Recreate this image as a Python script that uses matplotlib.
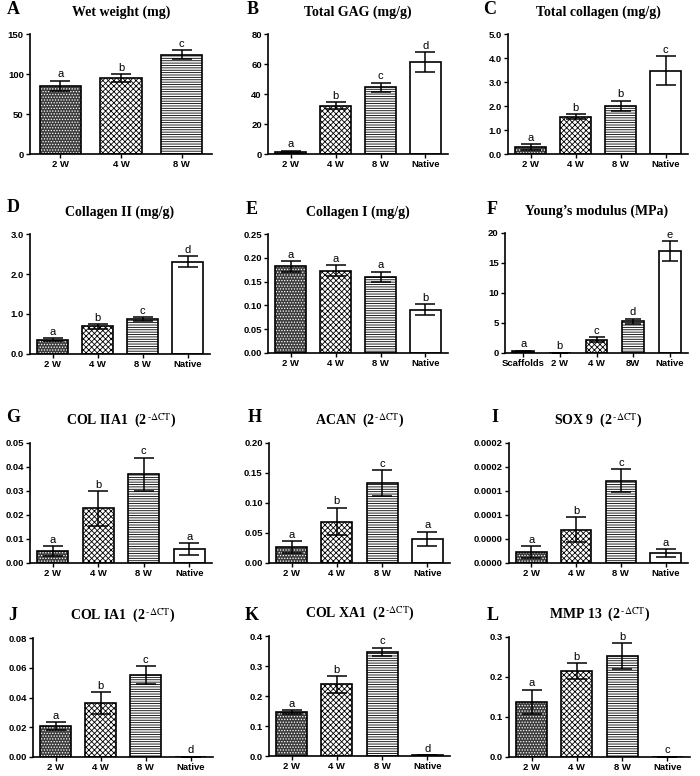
import matplotlib.pyplot as plt
import numpy as np

plt.rcParams['font.family'] = ['Liberation Sans', 'DejaVu Sans']
plt.rcParams['hatch.linewidth'] = 0.6
plt.rcParams['mathtext.fontset'] = 'stix'

# group labels
groups3 = ["2 W", "4 W", "8 W"]
groups4 = ["2 W", "4 W", "8 W", "Native"]
groups5 = ["Scaffolds", "2 W", "4 W", "8W", "Native"]

# A - wet weight (mg)
wet_mean = [85, 95, 124]
wet_err = [6.5, 5, 5.5]
wet_sig = ["a", "b", "c"]
# B - total GAG (mg/g)
gag_mean = [1.5, 32.2, 44.4, 61.3]
gag_err = [0.8, 2.3, 3.2, 6.7]
gag_sig = ["a", "b", "c", "d"]
# C - total collagen (mg/g)
col_mean = [0.29, 1.56, 2.0, 3.47]
col_err = [0.11, 0.09, 0.22, 0.6]
col_sig = ["a", "b", "b", "c"]
# D - collagen II (mg/g)
col2_mean = [0.36, 0.69, 0.875, 2.31]
col2_err = [0.04, 0.06, 0.05, 0.14]
col2_sig = ["a", "b", "c", "d"]
# E - collagen I (mg/g)
col1_mean = [0.182, 0.173, 0.160, 0.091]
col1_err = [0.011, 0.012, 0.011, 0.012]
col1_sig = ["a", "a", "a", "b"]
# F - Young's modulus (MPa)
ym_mean = [0.3, 0.05, 2.2, 5.3, 17.0]
ym_err = [0.1, 0.0, 0.4, 0.4, 1.6]
ym_sig = ["a", "b", "c", "d", "e"]
# G - COL IIA1
g_mean = [0.0051, 0.0228, 0.0369, 0.0058]
g_err = [0.0020, 0.0072, 0.0070, 0.0024]
g_sig = ["a", "b", "c", "a"]
# H - ACAN
h_mean = [0.0267, 0.069, 0.133, 0.040]
h_err = [0.0094, 0.023, 0.022, 0.012]
h_sig = ["a", "b", "c", "a"]
# I - SOX9
i_mean = [0.0000177, 0.0000552, 0.000137, 0.000016]
i_err = [0.0000100, 0.0000210, 0.000019, 0.0000067]
i_sig = ["a", "b", "c", "a"]
# J - COL IA1
j_mean = [0.0207, 0.0361, 0.055, 0.0003]
j_err = [0.0027, 0.0074, 0.006, 0.0]
j_sig = ["a", "b", "c", "d"]
# K - COL XA1
k_mean = [0.1456, 0.239, 0.347, 0.002]
k_err = [0.0067, 0.028, 0.014, 0.0]
k_sig = ["a", "b", "c", "d"]
# L - MMP13
l_mean = [0.1375, 0.215, 0.2525, 0.001]
l_err = [0.031, 0.019, 0.032, 0.0]
l_sig = ["a", "b", "b", "c"]

sup = r"  (2$^{\,\text{-}\Delta\mathrm{CT}}$)"

# letter, title, labels, means, errs, sig, ymax, nticks, fmt, styles, axes px (x0, x1, ytop, ybot), letter px
panels = [
    ("A", "Wet weight (mg)", groups3, wet_mean, wet_err, wet_sig, 150, 3, "%d",
     ["dots", "check", "lines"], (30, 212, 34, 154), (13, 10)),
    ("B", "Total GAG (mg/g)", groups4, gag_mean, gag_err, gag_sig, 80, 4, "%d",
     ["dots", "check", "lines", "white"], (268, 448, 34, 154), (253, 10)),
    ("C", "Total collagen (mg/g)", groups4, col_mean, col_err, col_sig, 5, 5, "%.1f",
     ["dots", "check", "lines", "white"], (508, 688, 34, 154), (490, 10)),
    ("D", "Collagen II (mg/g)", groups4, col2_mean, col2_err, col2_sig, 3, 3, "%.1f",
     ["dots", "check", "lines", "white"], (30, 210, 234, 354), (13, 208)),
    ("E", "Collagen I (mg/g)", groups4, col1_mean, col1_err, col1_sig, 0.25, 5, "%.2f",
     ["dots", "check", "lines", "white"], (268, 448, 234, 353), (252, 210)),
    ("F", "Young\u2019s modulus (MPa)", groups5, ym_mean, ym_err, ym_sig, 20, 4, "%d",
     ["dots", "dots", "check", "lines", "white"], (505, 688, 233, 353), (492, 210)),
    ("G", "COL IIA1" + sup, groups4, g_mean, g_err, g_sig, 0.05, 5, "%.2f",
     ["dots", "check", "lines", "white"], (30, 212, 443, 563), (13, 418)),
    ("H", "ACAN" + sup, groups4, h_mean, h_err, h_sig, 0.20, 4, "%.2f",
     ["dots", "check", "lines", "white"], (269, 450, 443, 563), (255, 418)),
    ("I", "SOX 9" + sup, groups4, i_mean, i_err, i_sig, 0.0002, 5, "%.4f",
     ["dots", "check", "lines", "white"], (509, 688, 443, 563), (495, 418)),
    ("J", "COL IA1" + sup, groups4, j_mean, j_err, j_sig, 0.08, 4, "%.2f",
     ["dots", "check", "lines", "white"], (33, 213, 638, 757), (13, 615)),
    ("K", "COL XA1" + sup, groups4, k_mean, k_err, k_sig, 0.4, 4, "%.1f",
     ["dots", "check", "lines", "white"], (269, 450, 636, 756), (252, 615)),
    ("L", "MMP 13" + sup, groups4, l_mean, l_err, l_sig, 0.3, 3, "%.1f",
     ["dots", "check", "lines", "white"], (509, 690, 637, 757), (493, 615)),
]

styles = {
    "dots": dict(color="#3c3c3c", edgecolor="white", hatch="......"),
    "check": dict(color="white", edgecolor="black", hatch="xxxxxx"),
    "lines": dict(color="white", edgecolor="black", hatch="-------"),
    "white": dict(color="white", edgecolor="white", hatch=None),
}

W, H = 700, 776
fig = plt.figure(figsize=(W / 100, H / 100), dpi=100)

for letter, title, labels, means, errs, sig, ymax, nt, fmt, sty, box, lpos in panels:
    x0, x1, yt, yb = box
    ax = fig.add_axes([x0 / W, 1 - yb / H, (x1 - x0) / W, (yb - yt) / H])
    n = len(labels)
    x = np.arange(n)
    wd = 0.6 if n == 5 else 0.68
    for xi, m, s in zip(x, means, sty):
        ax.bar(xi, m, width=wd, linewidth=0, zorder=2, **styles[s])
    ax.bar(x, means, width=wd, fill=False, edgecolor="black", linewidth=1.2, zorder=3)
    ax.errorbar(x, means, yerr=errs, fmt="none", ecolor="black", elinewidth=1.1,
                capsize=7 if n < 5 else 6, capthick=1.1, zorder=4)
    for xi, m, e, s in zip(x, means, errs, sig):
        ax.annotate(s, (xi, m + e), xytext=(0, 1), textcoords="offset points",
                    ha="center", va="bottom", fontsize=8)
    ax.set_xlim(-0.5, n - 0.5)
    ax.set_ylim(0, ymax)
    ticks = np.linspace(0, ymax, nt + 1)
    ax.set_yticks(ticks)
    ax.set_yticklabels([fmt % t for t in ticks])
    ax.set_xticks(x)
    ax.set_xticklabels(labels)
    for lab in ax.get_xticklabels() + ax.get_yticklabels():
        lab.set_fontweight("bold")
        lab.set_fontsize(6.8)
    ax.tick_params(length=3, width=1, pad=1.5)
    for side in ("top", "right"):
        ax.spines[side].set_visible(False)
    for side in ("left", "bottom"):
        ax.spines[side].set_linewidth(1.2)
    fig.text((x0 + x1) / 2 / W, 1 - (yt - 22) / H, title, ha="center", va="center",
             family=["Liberation Serif"], fontweight="bold", fontsize=10)
    fig.text(lpos[0] / W, 1 - lpos[1] / H, letter, ha="center", va="center",
             family=["Liberation Serif"], fontweight="bold", fontsize=13)

fig.savefig("out.png", dpi=100, facecolor="w")
plt.close()
